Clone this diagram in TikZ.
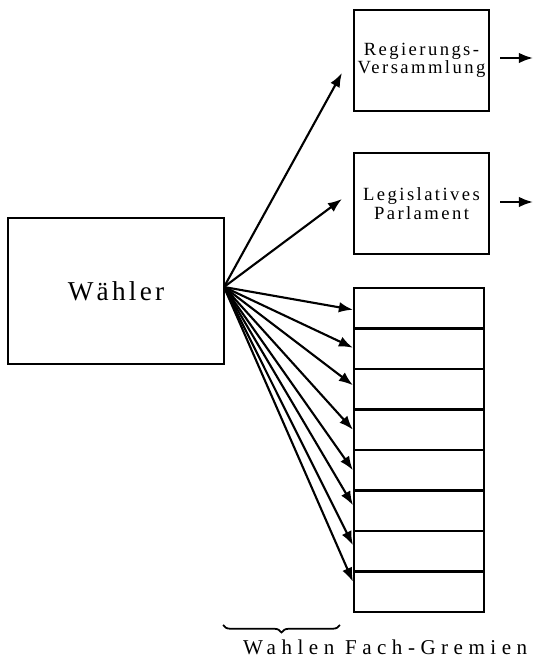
\documentclass[tikz,border=0pt]{standalone}
\usepackage{fontspec}
\setmainfont{Liberation Serif}
\newfontfamily\boxfont[LetterSpace=13]{Liberation Serif}
\newfontfamily\bigfont[LetterSpace=12]{Liberation Serif}
\newfontfamily\widefont[LetterSpace=26]{Liberation Serif}
\usepackage{tikz}
\usetikzlibrary{arrows.meta}
\usetikzlibrary{calc}
\usetikzlibrary{positioning}
\usetikzlibrary{decorations.pathreplacing}

\begin{document}
\begin{tikzpicture}[
		line width=1.2pt,
		scale=1, every node/.style={scale=1},
		> = {Latex[length=8pt,width=6pt]},
		organ/.style = {draw,rectangle,minimum width=2.70cm,minimum height=2.02cm,align=center,inner sep=0pt,font=\boxfont\fontsize{10.6}{10.6}\selectfont},
		fach/.style = {draw,rectangle,minimum width=2.60cm,minimum height=0.81cm,inner sep=0pt}
		]

	\useasboundingbox (0,0) rectangle (10.74,13.24);

	% voters
	\node[draw,rectangle,minimum width=4.32cm,minimum height=2.92cm,font=\bigfont\fontsize{15.5}{17}\selectfont] (waehler) at (2.32,7.42) {Wähler};
	\coordinate (src) at (4.48,7.5);

	% elected bodies
	\node[organ] (reg) at (8.43,12.03) {Regierungs-\\Versammlung};
	\node[organ] (leg) at (8.43,9.17) {Legislatives\\Parlament};

	\coordinate (rega) at (10.0,12.08);
	\coordinate (regb) at (10.66,12.08);
	\coordinate (lega) at (10.0,9.2);
	\coordinate (legb) at (10.66,9.2);
	\draw[->] (rega) -- (regb);
	\draw[->] (lega) -- (legb);

	\draw[->] (src) -- ([xshift=-2.2mm,yshift=-2.5mm]reg.west);
	\draw[->] (src) -- ([xshift=-2.2mm,yshift=0.9mm]leg.west);

	% specialised committees
	\foreach \i/\dy in {1/-0.03,2/0.02,3/0.08,4/0,5/0,6/0.11,7/0.12,8/0.2}{
		\node[fach] (f\i) at (8.38,{7.885-0.81*\i}) {};
		\draw[->] (src) -- ([yshift=\dy cm]f\i.west);
	}

	\coordinate (bra) at (6.80,0.74);
	\coordinate (brb) at (4.46,0.74);
	\draw[line width=1pt,decorate,decoration={brace,amplitude=0.15cm}] (bra) -- (brb);

	\node[anchor=base west,inner sep=0pt,font=\widefont\fontsize{12}{14}\selectfont] (wahl) at (4.84,0.14) {Wahlen Fach-Gremien};
\end{tikzpicture}
\end{document}
